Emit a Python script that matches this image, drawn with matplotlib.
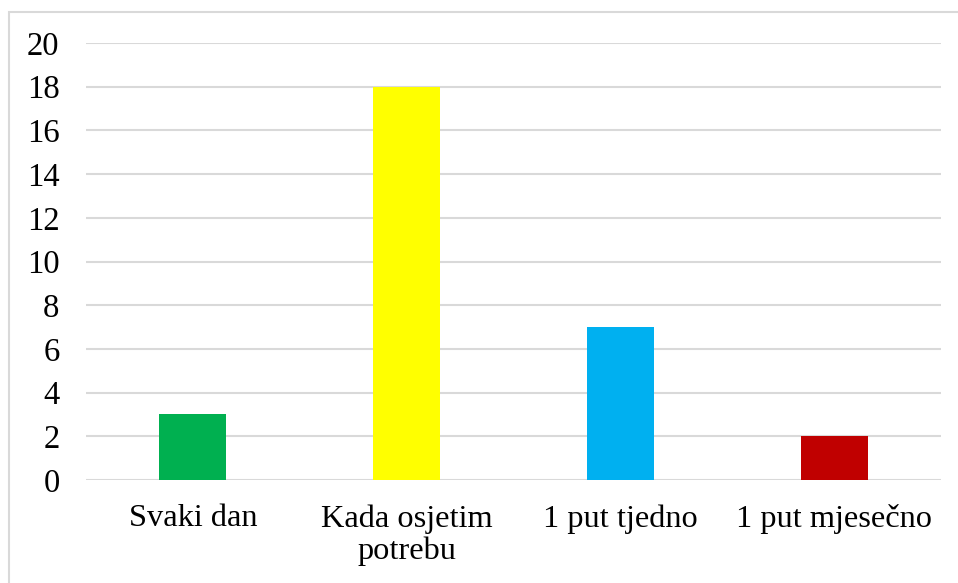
import matplotlib.pyplot as plt
from matplotlib.patches import Rectangle

categories = ["Svaki dan", "Kada osjetim\npotrebu", "1 put tjedno", "1 put mjesečno"]
values = [3, 18, 7, 2]
colors = ["#00b050", "#ffff00", "#00b0f0", "#c00000"]
y_ticks = list(range(0, 21, 2))

plt.rcParams['font.family'] = ['Liberation Serif', 'DejaVu Serif']

W, H = 958, 583
fig = plt.figure(figsize=(W / 100, H / 100), dpi=100)
ax = fig.add_axes([86 / W, 1 - 480 / H, (941 - 86) / W, (480 - 43) / H])

# outer chart border (only left and top show in the crop)
fig.patches.append(Rectangle((9 / W, -0.1), 1.2, 1 - 12 / H + 0.1, transform=fig.transFigure,
                             fill=False, edgecolor="#d9d9d9", linewidth=1.5))

x = list(range(len(categories)))
ax.bar(x, values, width=0.313, color=colors, zorder=3)

ax.set_xlim(-0.5, len(categories) - 0.5)
ax.set_ylim(0, 20)
ax.set_yticks(y_ticks)
ax.set_xticks(x)
ax.set_xticklabels(categories, fontsize=23.3, linespacing=1.12, va="top")
ax.tick_params(axis="y", length=0, pad=19, labelsize=23.5)
ax.tick_params(axis="x", length=0, pad=17.5)
ax.grid(axis="y", color="#d9d9d9", linewidth=1.5, zorder=0)
for s in ax.spines.values():
    s.set_visible(False)

fig.savefig("out.png", dpi=100)
